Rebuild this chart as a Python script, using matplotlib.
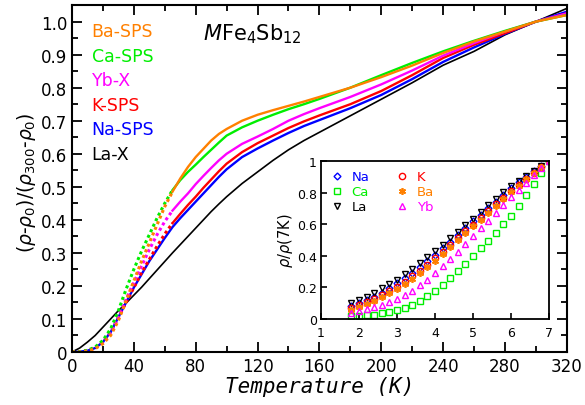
import numpy as np
import matplotlib
matplotlib.use("Agg")
import matplotlib.pyplot as plt
from matplotlib.ticker import MultipleLocator, FuncFormatter

plt.rcParams['font.family'] = ['DejaVu Sans']
plt.rcParams['mathtext.fontset'] = 'dejavusans'

# main panel: normalised resistivity vs temperature
temp = [0, 5, 10, 15, 20, 25, 30, 35, 40, 45, 50, 55, 60, 65, 70, 75, 80, 85, 90, 95,
        100, 110, 120, 130, 140, 150, 160, 180, 200, 220, 240, 260, 280, 300, 320]
ba = [0, 0.0, 0.003, 0.01, 0.025, 0.05, 0.095, 0.155, 0.215, 0.275, 0.33, 0.385,
      0.44, 0.485, 0.525, 0.56, 0.59, 0.615, 0.64, 0.66, 0.675, 0.70, 0.718, 0.732,
      0.745, 0.758, 0.772, 0.80, 0.832, 0.867, 0.905, 0.94, 0.97, 1.0, 1.02]
ca = [0, 0.001, 0.005, 0.015, 0.035, 0.07, 0.125, 0.19, 0.25, 0.305, 0.355, 0.405,
      0.45, 0.49, 0.52, 0.545, 0.567, 0.59, 0.612, 0.634, 0.655, 0.68, 0.70, 0.718,
      0.735, 0.75, 0.766, 0.80, 0.838, 0.875, 0.91, 0.942, 0.972, 1.0, 1.02]
yb = [0, 0.001, 0.004, 0.012, 0.03, 0.06, 0.105, 0.16, 0.21, 0.26, 0.31, 0.355,
      0.395, 0.428, 0.455, 0.48, 0.508, 0.533, 0.557, 0.58, 0.60, 0.63, 0.652, 0.675,
      0.70, 0.72, 0.738, 0.772, 0.81, 0.852, 0.897, 0.935, 0.97, 1.0, 1.025]
k = [0, 0.001, 0.004, 0.012, 0.03, 0.06, 0.105, 0.15, 0.195, 0.24, 0.28, 0.32,
     0.357, 0.39, 0.418, 0.445, 0.47, 0.497, 0.522, 0.547, 0.57, 0.605, 0.632, 0.655,
     0.678, 0.698, 0.716, 0.75, 0.79, 0.838, 0.89, 0.93, 0.965, 1.0, 1.025]
na = [0, 0.001, 0.004, 0.012, 0.03, 0.06, 0.105, 0.15, 0.195, 0.235, 0.275, 0.31,
      0.345, 0.378, 0.405, 0.43, 0.455, 0.48, 0.505, 0.53, 0.553, 0.59, 0.616, 0.64,
      0.663, 0.684, 0.702, 0.738, 0.778, 0.826, 0.878, 0.922, 0.963, 1.0, 1.03]
la = [0, 0.012, 0.03, 0.05, 0.075, 0.10, 0.125, 0.148, 0.172, 0.196, 0.222, 0.248,
      0.274, 0.30, 0.325, 0.35, 0.375, 0.40, 0.425, 0.448, 0.47, 0.51, 0.545, 0.58,
      0.612, 0.64, 0.665, 0.715, 0.765, 0.815, 0.868, 0.91, 0.96, 1.0, 1.04]

# inset: rho / rho(7K) at low temperature
t_low = [1.8, 2.0, 2.2, 2.4, 2.6, 2.8, 3.0, 3.2, 3.4, 3.6, 3.8, 4.0, 4.2, 4.4,
         4.6, 4.8, 5.0, 5.2, 5.4, 5.6, 5.8, 6.0, 6.2, 6.4, 6.6, 6.8, 7.0]
na_low = [0.085, 0.100, 0.118, 0.140, 0.165, 0.195, 0.228, 0.260, 0.294, 0.330,
          0.368, 0.408, 0.448, 0.490, 0.532, 0.575, 0.618, 0.660, 0.702, 0.744,
          0.786, 0.828, 0.866, 0.902, 0.936, 0.968, 1.000]
ca_low = [0.018, 0.020, 0.023, 0.028, 0.035, 0.044, 0.056, 0.071, 0.090, 0.114,
          0.144, 0.180, 0.218, 0.260, 0.305, 0.351, 0.400, 0.447, 0.496, 0.547,
          0.600, 0.655, 0.717, 0.783, 0.853, 0.925, 1.000]
la_low = [0.100, 0.118, 0.140, 0.165, 0.195, 0.222, 0.250, 0.282, 0.316, 0.352,
          0.390, 0.430, 0.470, 0.510, 0.552, 0.594, 0.636, 0.678, 0.720, 0.762,
          0.802, 0.840, 0.875, 0.908, 0.940, 0.970, 1.000]
k_low = [0.070, 0.087, 0.106, 0.127, 0.150, 0.176, 0.205, 0.236, 0.270, 0.306,
         0.345, 0.386, 0.427, 0.469, 0.512, 0.555, 0.598, 0.641, 0.684, 0.727,
         0.769, 0.810, 0.850, 0.889, 0.927, 0.964, 1.000]
ba_low = [0.060, 0.076, 0.094, 0.114, 0.137, 0.163, 0.192, 0.223, 0.256, 0.292,
          0.330, 0.370, 0.412, 0.455, 0.498, 0.542, 0.586, 0.630, 0.674, 0.718,
          0.761, 0.803, 0.844, 0.884, 0.923, 0.962, 1.000]
yb_low = [0.038, 0.049, 0.061, 0.074, 0.089, 0.107, 0.128, 0.152, 0.180, 0.213,
          0.250, 0.290, 0.334, 0.379, 0.426, 0.475, 0.525, 0.574, 0.623, 0.672,
          0.721, 0.770, 0.817, 0.864, 0.910, 0.955, 1.000]

c_ba, c_ca, c_yb, c_k, c_na, c_la = '#ff8000', '#00ee00', '#ff00ff', '#ff0000', '#0000ff', 'black'

fig = plt.figure(figsize=(5.85, 4.06), dpi=100)
ax = fig.add_axes([0.123, 0.1305, 0.846, 0.8545])

# below ~65 K the measured points are sparse and show up as dots
n_dot = temp.index(65) + 1
series = [(la, c_la, 1.2, 'La-X', False), (na, c_na, 1.7, 'Na-SPS', False),
          (k, c_k, 1.7, 'K-SPS', True), (yb, c_yb, 1.7, 'Yb-X', True),
          (ca, c_ca, 1.7, 'Ca-SPS', True), (ba, c_ba, 1.7, 'Ba-SPS', True)]
handles = {}
for vals, col, lw, name, dotted in series:
    if dotted:
        ax.plot(temp[:n_dot], vals[:n_dot], color=col, lw=2.2, ls=(0, (1, 1)))
        h, = ax.plot(temp[n_dot - 1:], vals[n_dot - 1:], color=col, lw=lw)
    else:
        h, = ax.plot(temp, vals, color=col, lw=lw)
    handles[name] = h

ax.set_xlim(0, 320)
ax.set_ylim(0, 1.05)
ax.xaxis.set_major_locator(MultipleLocator(40))
ax.xaxis.set_minor_locator(MultipleLocator(20))
ax.yaxis.set_major_locator(MultipleLocator(0.1))
ax.yaxis.set_minor_locator(MultipleLocator(0.05))
ax.yaxis.set_major_formatter(FuncFormatter(lambda v, p: '0' if abs(v) < 1e-9 else '%.1f' % v))
ax.tick_params(which='both', direction='in', top=True, right=True, labelsize=12, width=1.3)
ax.tick_params(which='major', length=7)
ax.tick_params(which='minor', length=4)
for s in ax.spines.values():
    s.set_linewidth(1.5)

ax.set_xlabel('Temperature (K)', fontsize=15, family='DejaVu Sans Mono', style='italic', labelpad=1)
ax.set_ylabel(r'$(\rho$-$\rho_0)/(\rho_{300}$-$\rho_0)$', fontsize=13.5)
ax.yaxis.set_label_coords(-0.068, 0.49)

names = ['Ba-SPS', 'Ca-SPS', 'Yb-X', 'K-SPS', 'Na-SPS', 'La-X']
leg = ax.legend([handles[n] for n in names], names, loc='upper left',
                frameon=False, handlelength=0, handletextpad=0, labelcolor='linecolor',
                fontsize=12.5, labelspacing=0.37, bbox_to_anchor=(0.008, 0.995))
for h in leg.legend_handles:
    h.set_visible(False)

ax.text(0.365, 0.92, r'$\mathit{M}\mathrm{Fe_4Sb_{12}}$', transform=ax.transAxes,
        fontsize=15, ha='center', va='center')

# inset
ins = fig.add_axes([0.5487, 0.2118, 0.3897, 0.389])
ms = 4.5
ins.plot(t_low, na_low, 'D', ms=ms - 1, mfc='none', mec=c_na, mew=1, label='Na')
ins.plot(t_low, ca_low, 's', ms=ms, mfc='none', mec=c_ca, mew=1, label='Ca')
ins.plot(t_low, la_low, 'v', ms=ms, mfc='none', mec=c_la, mew=1, label='La')
ins.plot(t_low, k_low, 'o', ms=ms, mfc='none', mec=c_k, mew=1, label='K')
ins.plot(t_low, ba_low, marker=(6, 2, 0), ls='none', ms=ms + 0.5, mec=c_ba, mew=1.2, label='Ba')
ins.plot(t_low, yb_low, '^', ms=ms, mfc='none', mec=c_yb, mew=1, label='Yb')
ins.set_xlim(1, 7)
ins.set_ylim(0, 1)
ins.xaxis.set_major_locator(MultipleLocator(1))
ins.yaxis.set_major_locator(MultipleLocator(0.2))
ins.yaxis.set_major_formatter(FuncFormatter(lambda v, p: '%g' % round(v, 1)))
ins.tick_params(direction='in', labelsize=9, length=4, width=1.2, pad=3)
ins.tick_params(axis='x', pad=5)
for s in ins.spines.values():
    s.set_linewidth(1.3)
ins.set_ylabel(r'$\rho/\rho$(7K)', fontsize=10.5, labelpad=1)
ins.legend(loc='upper left', ncol=2, frameon=False, labelcolor='markeredgecolor',
           fontsize=9.5, handlelength=1, handletextpad=0.6, columnspacing=2.0,
           labelspacing=0.15, borderaxespad=0.3)

fig.savefig('out.png', dpi=100)
